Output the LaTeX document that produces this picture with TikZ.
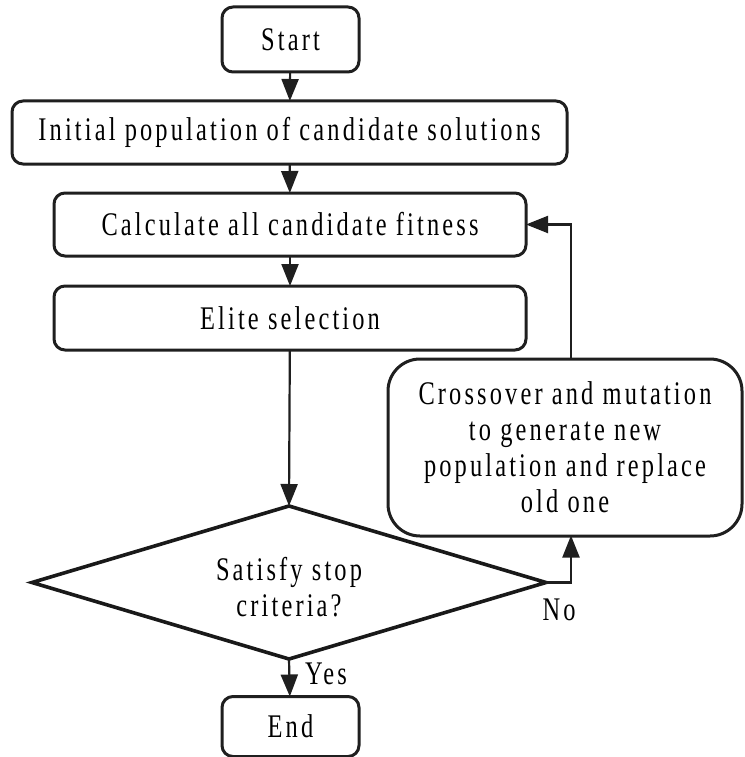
\documentclass[tikz,border=0pt]{standalone}
\usepackage{fontspec}
\setmainfont{Liberation Serif}[FakeStretch=0.74,LetterSpace=9.5]
\usetikzlibrary{arrows.meta,shapes.geometric}
\begin{document}
\begin{tikzpicture}[x=1pt,y=-1pt,
  every node/.style={inner sep=0pt,outer sep=0pt,font=\fontsize{33}{36}\selectfont},
  procbox/.style={draw=black!88,line width=3pt,rounded corners=11pt,align=center},
  bigbox/.style={procbox,rounded corners=32pt},
  decision/.style={draw=black!90,line width=3.6pt,diamond,minimum width=514pt,minimum height=153pt,aspect=3.36},
  flow/.style={draw=black!88,line width=2.2pt,-{Triangle[length=22pt,width=17pt]}},
  tag/.style={font=\fontsize{33}{36}\selectfont}]
\useasboundingbox (0,0) rectangle (744,757);

% process boxes
\node[procbox,minimum width=137pt,minimum height=65pt] (start) at (290.5,39.5) {Start};
\node[procbox,minimum width=555pt,minimum height=63pt] (init) at (289.5,132.5) {Initial population of candidate solutions};
\node[procbox,minimum width=472pt,minimum height=63pt] (calc) at (290,224.5) {Calculate all candidate fitness};
\node[procbox,minimum width=472pt,minimum height=64pt] (elite) at (290,318) {Elite selection};
\node[bigbox,minimum width=354pt,minimum height=177pt] (cross) at (565,447.5)
  {Crossover and mutation\\to generate new\\population and replace\\old one};
\node[procbox,minimum width=137pt,minimum height=60pt] (end) at (290.5,726.5) {End};

% decision
\node[decision] (dec) at (289,582.5) {};
\node[align=center] (dectext) at (289,587) {Satisfy stop\\criteria?};

% connectors
\draw[flow] (start) -- (init);
\draw[flow] (init) -- (calc);
\draw[flow] (calc) -- (elite);
\draw[flow] (elite) -- (dec.north);
\draw[flow] (dec.south) -- (end);
\coordinate (nocorner) at (571,582.5);
\coordinate (crossin) at (571,535.5);
\coordinate (crossout) at (571,359);
\coordinate (loopcorner) at (571,224.5);
\draw[flow] (dec.east) -- (nocorner) -- (crossin);
\draw[flow] (crossout) -- (loopcorner) -- (calc.east);

% branch labels
\node[tag] (yes) at (326,674) {Yes};
\node[tag] (no) at (559,610) {No};
\end{tikzpicture}
\end{document}
